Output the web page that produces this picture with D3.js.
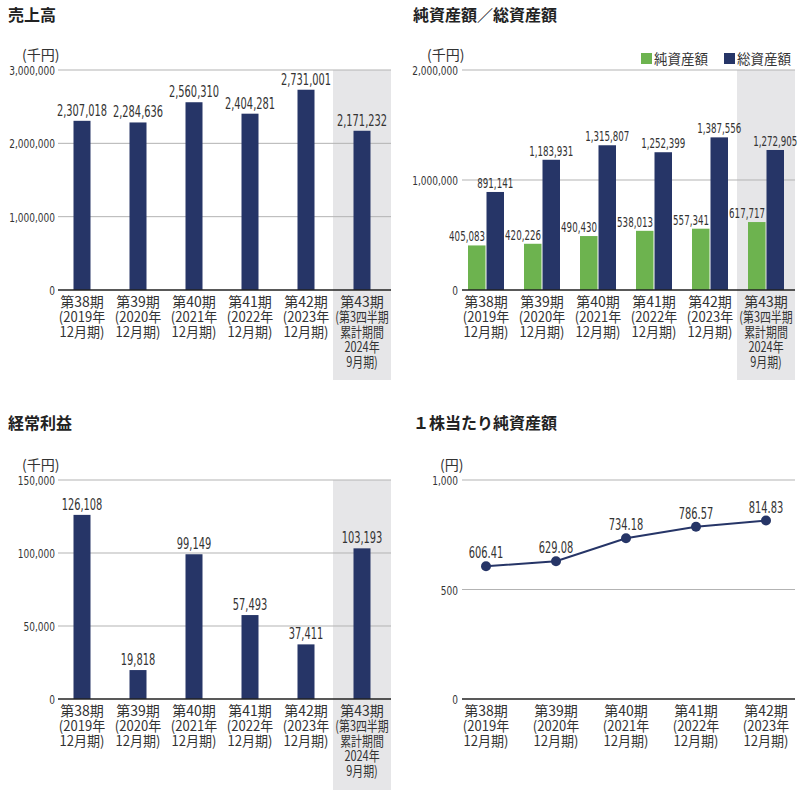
<!DOCTYPE html>
<html><head><meta charset="utf-8">
<script src="https://cdn.jsdelivr.net/npm/d3@7"></script>
<style>body{margin:0;background:#fff}</style>
</head><body><svg id="c" width="802" height="796"></svg>
<script>
// ---------- data ----------
const periods = ["第38期","第39期","第40期","第41期","第42期","第43期"];
const periodSub = [
  ["(2019年","12月期)"],
  ["(2020年","12月期)"],
  ["(2021年","12月期)"],
  ["(2022年","12月期)"],
  ["(2023年","12月期)"],
  ["(第3四半期","累計期間","2024年","9月期)"]
];
const sales = [2307018,2284636,2560310,2404281,2731001,2171232];
const netAssets = [405083,420226,490430,538013,557341,617717];
const totalAssets = [891141,1183931,1315807,1252399,1387556,1272905];
const ordinaryProfit = [126108,19818,99149,57493,37411,103193];
const bpsPeriods = ["第38期","第39期","第40期","第41期","第42期"];
const bps = [606.41,629.08,734.18,786.57,814.83];
const salesTicks = [0,1000000,2000000,3000000];
const assetTicks = [0,1000000,2000000];
const profitTicks = [0,50000,100000,150000];
const bpsTicks = [0,500,1000];
const legendLabels = ["純資産額","総資産額"];

// ---------- style ----------
const svg = d3.select("#c");
const NUM = "'Liberation Sans Narrow','Arial Narrow','DejaVu Sans Condensed',sans-serif";
const JP = "'Noto Sans CJK JP','Noto Sans',sans-serif";
const NAVY = "#263567", GREEN = "#6db34f", SHADE = "#e6e6e8", GRID = "#b3b3b3", TXT = "#333";
const fmt = d3.format(",");
const VAL_SX = 0.73, TICK_SX = 0.77;
const subScale = [0.93, 0.93, 0.93, 0.93, 0.93, 0.78];

function numText(g, x, y, txt, size, anchor, sx) {
  g.append("text")
    .attr("transform", `translate(${x},${y}) scale(${sx},1)`)
    .attr("text-anchor", anchor)
    .attr("font-family", NUM).attr("font-size", size)
    .attr("fill", TXT).text(txt);
}

function panel(cfg) {
  const g = svg.append("g");
  g.append("text").attr("x", cfg.titleX).attr("y", cfg.titleY)
    .attr("font-family", JP).attr("font-weight", 700).attr("font-size", 16)
    .attr("fill", "#222").text(cfg.title);
  const x = d3.scaleBand().domain(cfg.cats).range(cfg.xRange);
  const y = d3.scaleLinear().domain(cfg.yDomain).range(cfg.yRange);
  const top = y.range()[1], base = y.range()[0];
  if (cfg.shadeLast) {
    const c = cfg.cats[cfg.cats.length - 1];
    g.append("rect").attr("x", x(c) - 1).attr("y", top)
      .attr("width", x.step() + 2).attr("height", cfg.shadeBottom - top)
      .attr("fill", SHADE);
  }
  cfg.ticks.forEach(t => {
    if (t > 0) g.append("line").attr("x1", cfg.gridX[0]).attr("x2", cfg.gridX[1])
      .attr("y1", y(t)).attr("y2", y(t)).attr("stroke", GRID).attr("stroke-width", 1);
    numText(g, cfg.tickX, y(t) + 5, cfg.tickFmt(t), 13, "end", TICK_SX);
  });
  g.append("text").attr("x", cfg.unitX).attr("y", top - 10)
    .attr("font-family", JP).attr("font-size", 14).attr("fill", TXT).text(cfg.unit);
  cfg.cats.forEach((c, i) => {
    const cx = x(c) + x.step() / 2;
    const lines = [c].concat(cfg.sub[i]);
    lines.forEach((l, j) => {
      const sx = j === 0 ? 1 : subScale[i];
      g.append("text").attr("text-anchor", "middle")
        .attr("transform", `translate(${cx},${base + 16.5 + j * 15}) scale(${sx},1)`)
        .attr("font-family", JP).attr("font-size", 14).attr("fill", TXT).text(l);
    });
  });
  return { g, x, y, base };
}

function drawAxisLine(p, cfg) {
  p.g.append("line").attr("x1", cfg.gridX[0]).attr("x2", cfg.gridX[1])
    .attr("y1", p.base).attr("y2", p.base).attr("stroke", "#222").attr("stroke-width", 1.5);
}

function barPanel(cfg, values) {
  const p = panel(cfg);
  const bw = 17;
  cfg.cats.forEach((c, i) => {
    const cx = p.x(c) + p.x.step() / 2;
    p.g.append("rect").attr("x", cx - bw / 2).attr("y", p.y(values[i]))
      .attr("width", bw).attr("height", p.base - p.y(values[i])).attr("fill", NAVY);
    numText(p.g, cx, p.y(values[i]) - 5, fmt(values[i]), 15, "middle", VAL_SX);
  });
  drawAxisLine(p, cfg);
}

// 売上高
barPanel({
  title: "売上高", titleX: 8, titleY: 21, cats: periods, sub: periodSub,
  xRange: [54, 390], yDomain: [0, 3000000], yRange: [290, 70],
  gridX: [58, 391], ticks: salesTicks, tickX: 55, tickFmt: fmt,
  unit: "(千円)", unitX: 22, shadeLast: true, shadeBottom: 380
}, sales);

// 経常利益
barPanel({
  title: "経常利益", titleX: 8, titleY: 429, cats: periods, sub: periodSub,
  xRange: [54, 390], yDomain: [0, 150000], yRange: [699, 480],
  gridX: [58, 391], ticks: profitTicks, tickX: 55, tickFmt: fmt,
  unit: "(千円)", unitX: 22, shadeLast: true, shadeBottom: 790
}, ordinaryProfit);

// 純資産額／総資産額
(function () {
  const cfg = {
    title: "純資産額／総資産額", titleX: 413, titleY: 21, cats: periods, sub: periodSub,
    xRange: [458, 794], yDomain: [0, 2000000], yRange: [290, 70],
    gridX: [462, 795], ticks: assetTicks, tickX: 458, tickFmt: fmt,
    unit: "(千円)", unitX: 427, shadeLast: true, shadeBottom: 380
  };
  const p = panel(cfg);
  const bw = 17.5;
  const cxOf = c => p.x(c) + p.x.step() / 2;
  periods.forEach((c, i) => {
    const cx = cxOf(c);
    p.g.append("rect").attr("x", cx - 0.5 - bw).attr("y", p.y(netAssets[i]))
      .attr("width", bw).attr("height", p.base - p.y(netAssets[i])).attr("fill", GREEN);
    p.g.append("rect").attr("x", cx + 0.5).attr("y", p.y(totalAssets[i]))
      .attr("width", bw).attr("height", p.base - p.y(totalAssets[i])).attr("fill", NAVY);
  });
  periods.forEach((c, i) => {
    const cx = cxOf(c);
    numText(p.g, cx - 1, p.y(netAssets[i]) - 4, fmt(netAssets[i]), 14, "end", 0.69);
    numText(p.g, cx + 0.5 + bw / 2, p.y(totalAssets[i]) - 4, fmt(totalAssets[i]), 14, "middle", 0.69);
  });
  drawAxisLine(p, cfg);
  // legend
  const lg = p.g.append("g");
  [[641, GREEN, legendLabels[0]], [724, NAVY, legendLabels[1]]].forEach(([lx, col, lab]) => {
    lg.append("rect").attr("x", lx).attr("y", 53).attr("width", 11).attr("height", 11).attr("fill", col);
    lg.append("text").attr("x", lx + 13).attr("y", 63.5).attr("font-family", JP)
      .attr("font-size", 13.5).attr("fill", TXT).text(lab);
  });
})();

// １株当たり純資産額
(function () {
  const cfg = {
    title: "１株当たり純資産額", titleX: 413, titleY: 429, cats: bpsPeriods,
    sub: periodSub.slice(0, 5),
    xRange: [451, 801], yDomain: [0, 1000], yRange: [699, 480],
    gridX: [462, 795], ticks: bpsTicks, tickX: 458, tickFmt: fmt,
    unit: "(円)", unitX: 440, shadeLast: false
  };
  const p = panel(cfg);
  drawAxisLine(p, cfg);
  const cx = c => p.x(c) + p.x.step() / 2;
  const line = d3.line().x((d, i) => cx(bpsPeriods[i])).y(d => p.y(d));
  p.g.append("path").datum(bps).attr("d", line).attr("fill", "none")
    .attr("stroke", NAVY).attr("stroke-width", 2);
  bps.forEach((v, i) => {
    p.g.append("circle").attr("cx", cx(bpsPeriods[i])).attr("cy", p.y(v))
      .attr("r", 5).attr("fill", NAVY);
    numText(p.g, cx(bpsPeriods[i]), p.y(v) - 8, d3.format(".2f")(v), 15, "middle", VAL_SX);
  });
})();
</script>
</body></html>
